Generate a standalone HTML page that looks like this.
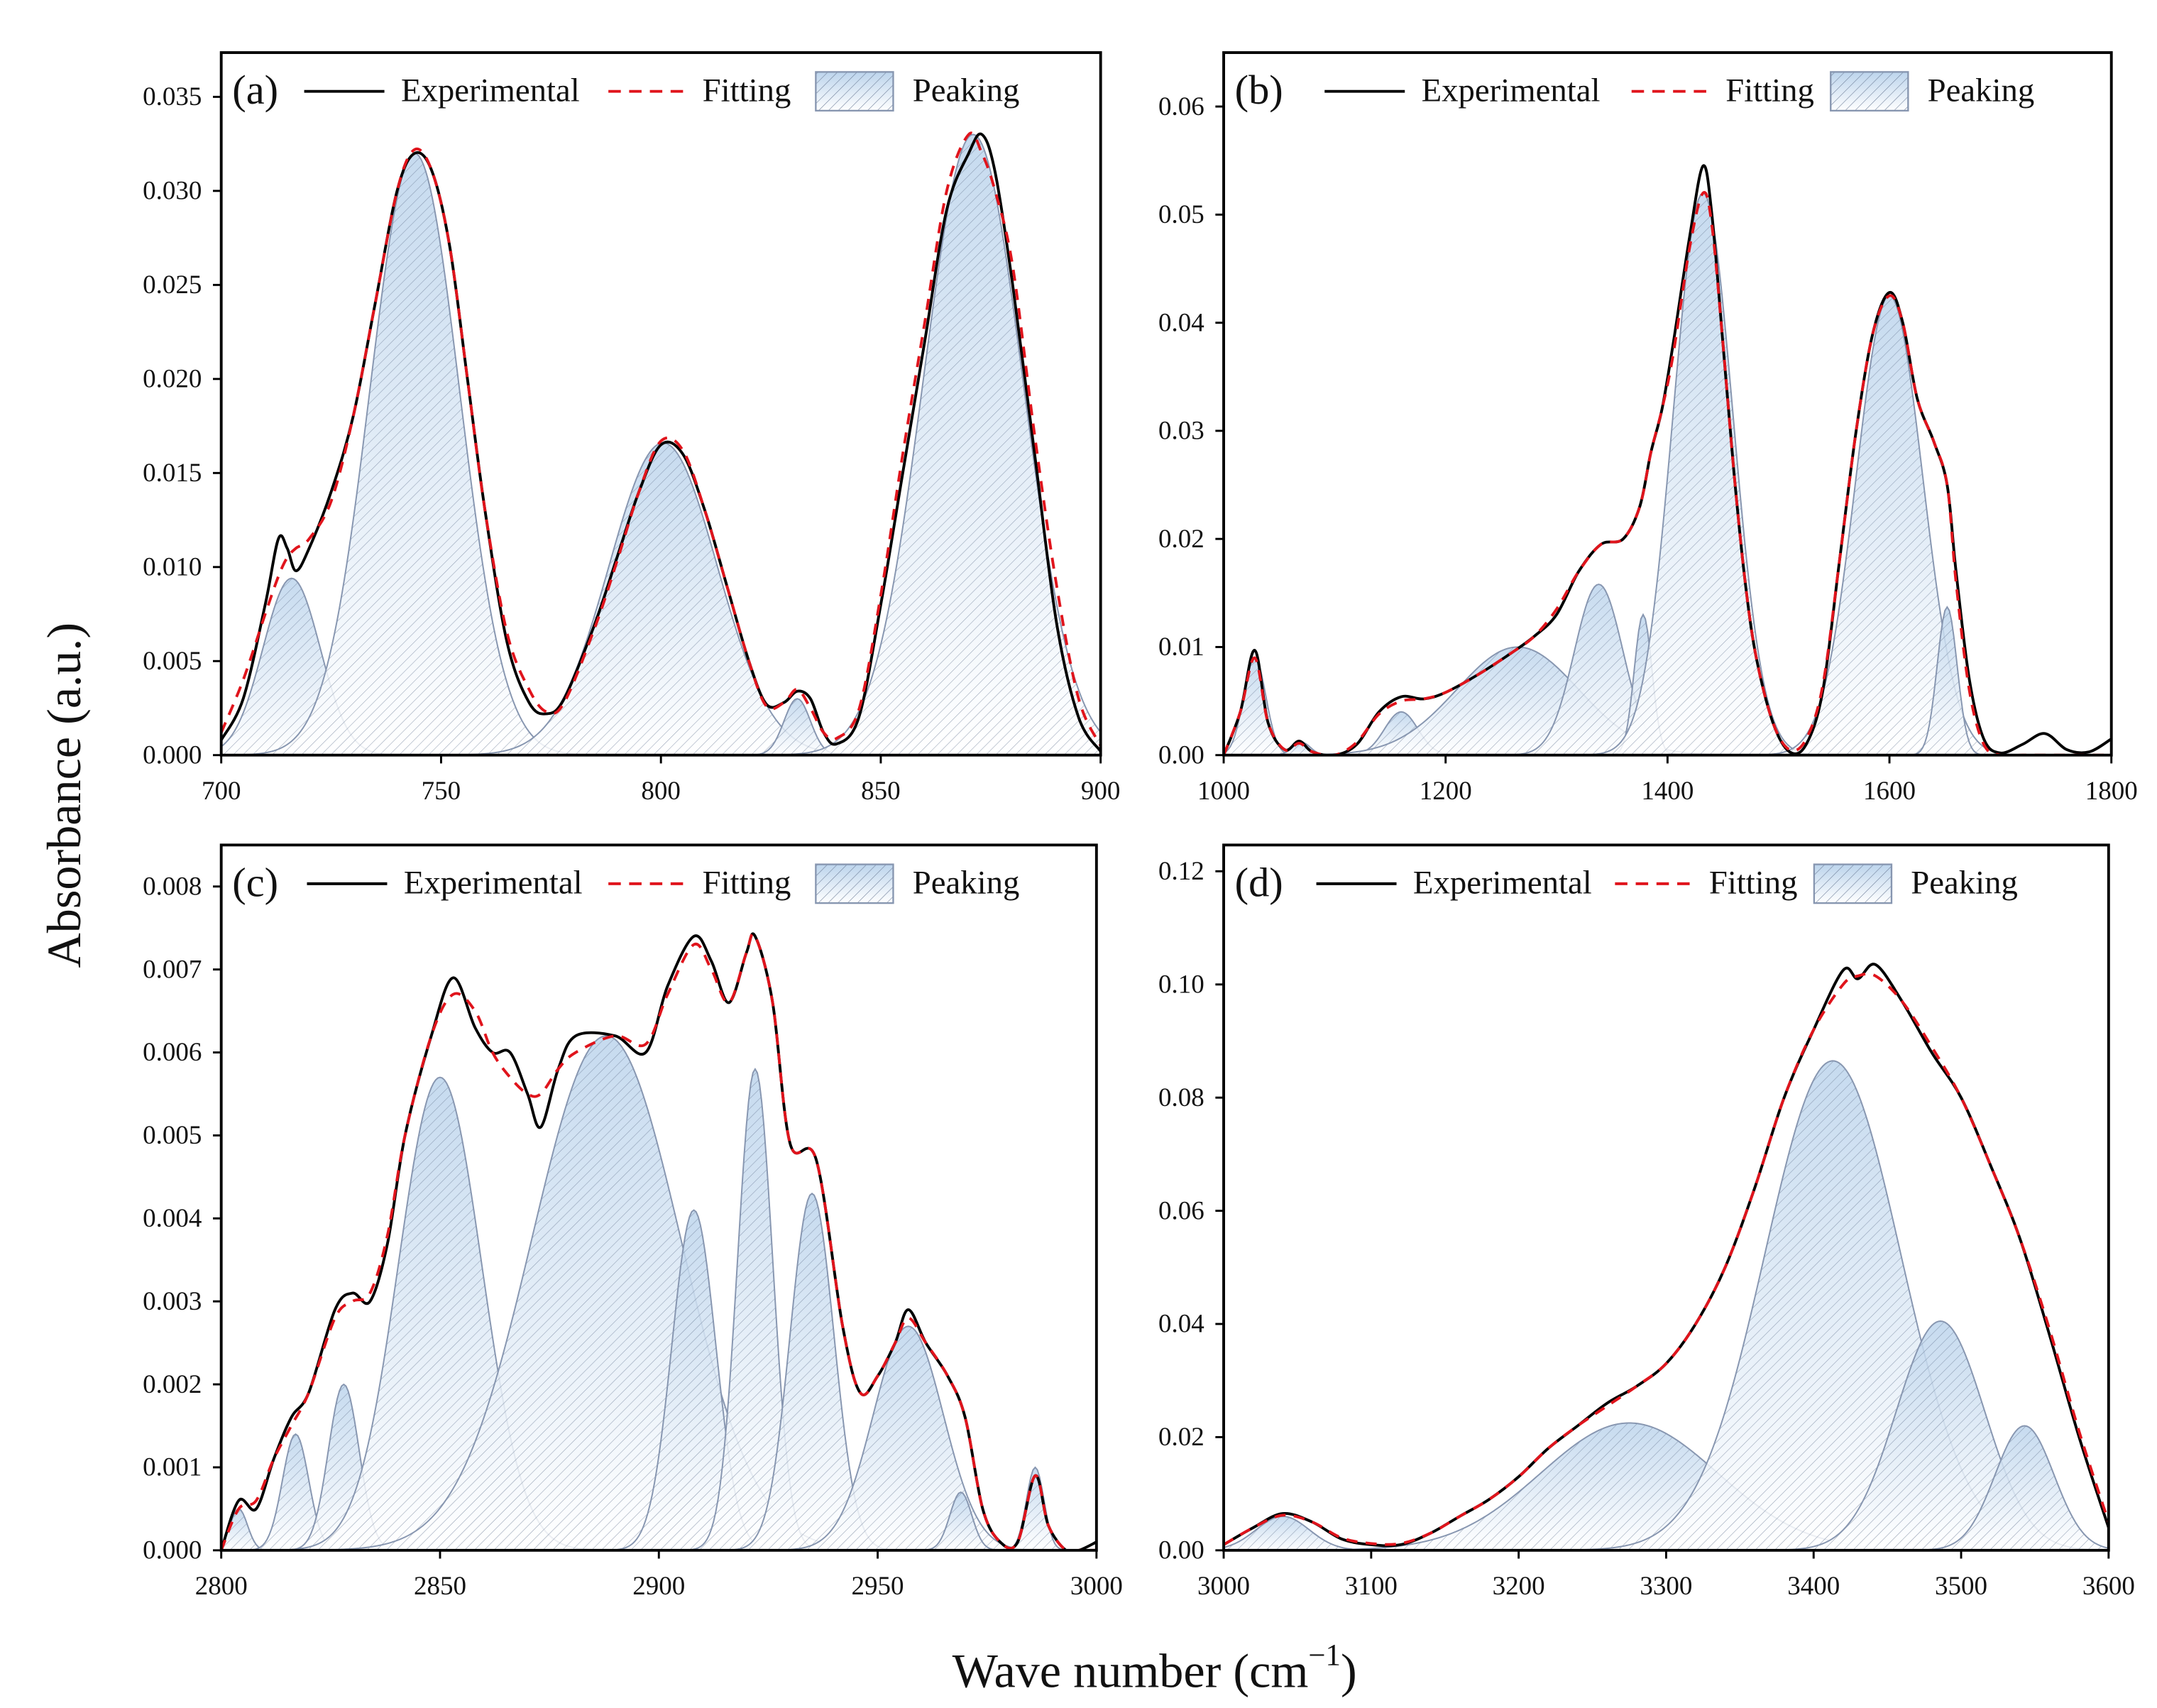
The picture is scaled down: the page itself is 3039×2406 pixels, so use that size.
<!DOCTYPE html>
<html><head><meta charset="utf-8"><style>
html,body{margin:0;padding:0;background:#fff}
svg{display:block}
text{font-family:"Liberation Serif",serif;fill:#111}
</style></head><body>
<svg id="chart" width="3039" height="2406" viewBox="0 0 1560 1235" xmlns="http://www.w3.org/2000/svg">
<defs>
<linearGradient id="bluegrad" x1="0" y1="0" x2="0" y2="1">
<stop offset="0" stop-color="#bcd4ec"/><stop offset="1" stop-color="#ffffff"/>
</linearGradient>
<pattern id="hatch" patternUnits="userSpaceOnUse" width="5" height="5" patternTransform="rotate(45)">
<line x1="0" y1="0" x2="0" y2="5" stroke="#6f7f99" stroke-width="0.6"/>
</pattern>
</defs>
<text transform="translate(58,575) rotate(-90)" text-anchor="middle" font-size="35">Absorbance  (a.u.)</text>
<text x="835" y="1220" text-anchor="middle" font-size="35">Wave number (cm<tspan font-size="22" dy="-16">−1</tspan><tspan dy="16">)</tspan></text>
</svg>
<script>
// ---- Panel (a) data ----
const aPeakCenters=[716,744,800.5,831,871];
const aPeakHeights=[0.0094,0.0320,0.0166,0.0030,0.0330];
const aPeakSigmas=[6.5,10.2,12.3,3,11.3];
const aExpX=[700,705,710,713,715,717,720,725,730,735,740,744,748,752,756,760,765,770,774,778,785,790,795,800,805,810,815,820,824,828,831,834,837,840,845,850,855,860,865,870,873,876,880,885,890,895,900];
const aExpY=[0.0008,0.003,0.008,0.0115,0.011,0.0098,0.011,0.014,0.018,0.024,0.030,0.032,0.031,0.027,0.020,0.013,0.006,0.0028,0.0022,0.003,0.007,0.0105,0.014,0.0165,0.016,0.013,0.009,0.005,0.0027,0.0028,0.0034,0.003,0.0012,0.0006,0.002,0.008,0.015,0.022,0.029,0.032,0.033,0.031,0.025,0.016,0.007,0.002,0.0002];
const aFitY=[0.0012,0.004,0.0075,0.0095,0.0105,0.011,0.0115,0.0135,0.018,0.024,0.030,0.0322,0.031,0.027,0.020,0.013,0.0065,0.0035,0.0023,0.0028,0.0068,0.0103,0.014,0.0167,0.0162,0.013,0.009,0.005,0.0026,0.0028,0.0035,0.0025,0.0012,0.0009,0.0024,0.0085,0.016,0.023,0.030,0.033,0.032,0.030,0.026,0.017,0.009,0.003,0.0005];
const aXTicks=[700,750,800,850,900];
const aYTicks=["0.000","0.005","0.010","0.015","0.020","0.025","0.030","0.035"];
// ---- Panel (b) data ----
const bPeakCenters=[1028,1070,1160,1265,1338,1378,1432,1600,1652];
const bPeakHeights=[0.0090,0.0012,0.0040,0.0100,0.0158,0.0130,0.0520,0.0425,0.0137];
const bPeakSigmas=[10,8,15,55,22,8,27,30,9];
const bExpX=[1000,1015,1028,1040,1055,1068,1080,1100,1120,1140,1160,1180,1200,1230,1260,1280,1300,1320,1340,1360,1375,1385,1395,1405,1420,1432,1440,1450,1460,1470,1480,1495,1510,1525,1540,1555,1570,1585,1600,1612,1625,1640,1652,1660,1672,1685,1700,1720,1740,1760,1780,1800];
const bExpY=[0,0.004,0.0097,0.003,0.0005,0.0013,0.0003,0,0.001,0.004,0.0054,0.0052,0.0058,0.0075,0.0095,0.011,0.013,0.017,0.0195,0.020,0.023,0.028,0.032,0.038,0.048,0.0545,0.050,0.038,0.026,0.016,0.009,0.003,0.0003,0.001,0.006,0.018,0.030,0.039,0.0428,0.040,0.033,0.029,0.025,0.017,0.007,0.0015,0.0002,0.001,0.002,0.0005,0.0003,0.0015];
const bFitY=[0,0.004,0.009,0.003,0.0005,0.0011,0.0003,0,0.0012,0.0038,0.005,0.0052,0.0058,0.0075,0.0095,0.011,0.0135,0.017,0.0195,0.020,0.023,0.028,0.032,0.037,0.047,0.052,0.049,0.038,0.026,0.016,0.009,0.003,0.0005,0.0015,0.0065,0.018,0.030,0.039,0.0425,0.040,0.033,0.029,0.025,0.016,0.006,0.001,0,0,0,0,0,0];
const bXTicks=[1000,1200,1400,1600,1800];
const bYTicks=["0.00","0.01","0.02","0.03","0.04","0.05","0.06"];
// ---- Panel (c) data ----
const cPeakCenters=[2804,2817,2828,2850,2888,2908,2922,2935,2957,2969,2986];
const cPeakHeights=[0.0005,0.0014,0.0020,0.0057,0.0062,0.0041,0.0058,0.0043,0.0027,0.0007,0.0010];
const cPeakSigmas=[2,3,3.5,9.5,17,5,4,5,8,2.5,2];
const cExpX=[2800,2804,2808,2812,2816,2820,2826,2830,2834,2838,2842,2848,2853,2858,2862,2866,2870,2873,2877,2881,2890,2897,2902,2908,2912,2916,2920,2922,2926,2930,2936,2942,2946,2950,2954,2957,2961,2966,2970,2974,2978,2982,2986,2989,2993,2996,3000];
const cExpY=[0,0.0006,0.0005,0.0011,0.0016,0.0019,0.0029,0.0031,0.003,0.0037,0.005,0.0062,0.0069,0.0063,0.006,0.006,0.0055,0.0051,0.0058,0.0062,0.0062,0.006,0.0068,0.0074,0.0071,0.0066,0.0072,0.0074,0.0066,0.0049,0.0047,0.0027,0.0019,0.0021,0.0025,0.0029,0.0025,0.0021,0.0016,0.0005,0.0001,0.0001,0.0009,0.0003,0,0,0.0001];
const cFitY=[0,0.0005,0.0006,0.0011,0.0015,0.0019,0.0028,0.0030,0.0031,0.0038,0.005,0.0062,0.0067,0.0065,0.006,0.0057,0.0055,0.0055,0.0058,0.006,0.0062,0.0061,0.0067,0.0073,0.007,0.0066,0.0072,0.0074,0.0066,0.0049,0.0047,0.0027,0.0019,0.0021,0.0025,0.0028,0.0025,0.0021,0.0016,0.0005,0.0001,0.0001,0.0009,0.0003,0,0,0];
const cXTicks=[2800,2850,2900,2950,3000];
const cYTicks=["0.000","0.001","0.002","0.003","0.004","0.005","0.006","0.007","0.008"];
// ---- Panel (d) data ----
const dPeakCenters=[3040,3275,3413,3486,3543];
const dPeakHeights=[0.006,0.0225,0.0865,0.0405,0.022];
const dPeakSigmas=[18,60,46,30,20];
const dExpX=[3000,3020,3040,3060,3080,3100,3120,3140,3160,3180,3200,3220,3240,3260,3280,3300,3320,3340,3360,3380,3400,3420,3430,3442,3460,3480,3500,3520,3540,3560,3580,3600];
const dExpY=[0.001,0.004,0.0065,0.005,0.002,0.001,0.001,0.003,0.006,0.009,0.013,0.018,0.022,0.026,0.029,0.033,0.040,0.050,0.064,0.080,0.092,0.1025,0.101,0.1035,0.097,0.088,0.080,0.068,0.055,0.038,0.020,0.004];
const dFitY=[0.001,0.004,0.0062,0.005,0.0022,0.0012,0.0012,0.003,0.006,0.009,0.013,0.018,0.022,0.0255,0.029,0.033,0.040,0.050,0.064,0.080,0.092,0.100,0.1015,0.1015,0.097,0.089,0.080,0.068,0.055,0.039,0.021,0.005];
const dXTicks=[3000,3100,3200,3300,3400,3500,3600];
const dYTicks=["0.00","0.02","0.04","0.06","0.08","0.10","0.12"];

const NS="http://www.w3.org/2000/svg";
const svg=document.getElementById('chart');
function mk(tag,attrs,parent){const e=document.createElementNS(NS,tag);for(const k in attrs)e.setAttribute(k,attrs[k]);(parent||svg).appendChild(e);return e;}
function smooth(pts){let d='M'+pts[0][0].toFixed(2)+','+pts[0][1].toFixed(2);
 for(let i=0;i<pts.length-1;i++){const p0=pts[Math.max(0,i-1)],p1=pts[i],p2=pts[i+1],p3=pts[Math.min(pts.length-1,i+2)];
 const c1=[p1[0]+(p2[0]-p0[0])/6,p1[1]+(p2[1]-p0[1])/6],c2=[p2[0]-(p3[0]-p1[0])/6,p2[1]-(p3[1]-p1[1])/6];
 d+='C'+c1[0].toFixed(2)+','+c1[1].toFixed(2)+' '+c2[0].toFixed(2)+','+c2[1].toFixed(2)+' '+p2[0].toFixed(2)+','+p2[1].toFixed(2);}
 return d;}

function panel(id,L,R,T,B,x0,x1,yMax,xTicks,yTicks,pc,ph,ps,ex,ey,fy,legX,lw){
 const g=mk('g',{});
 
 
 const sx=v=>L+(v-x0)/(x1-x0)*(R-L);
 const sy=v=>B-v/yMax*(B-T);
 const clip=mk('clipPath',{id:'clip'+id},g);mk('rect',{x:L,y:T,width:R-L,height:B-T},clip);
 const plot=mk('g',{'clip-path':'url(#clip'+id+')'},g);
 const N=400;
 for(let k=0;k<pc.length;k++){
  let d='M'+sx(x0)+','+B;
  for(let i=0;i<=N;i++){const x=x0+(x1-x0)*i/N;const y=ph[k]*Math.exp(-0.5*Math.pow((x-pc[k])/ps[k],2));d+='L'+sx(x).toFixed(2)+','+sy(y).toFixed(2);}
  d+='L'+sx(x1)+','+B+'Z';
  const pg=mk('g',{},plot);
  
  
  mk('path',{d:d,fill:'url(#bluegrad)','fill-opacity':'0.85'},pg);
  mk('path',{d:d,fill:'url(#hatch)','fill-opacity':'0.7',stroke:'#8796b0','stroke-width':'1'},pg);
 }
 const ep=ex.map((x,i)=>[sx(x),sy(ey[i])]);
 const fp=ex.map((x,i)=>[sx(x),sy(fy[i])]);
 const expL=mk('path',{d:smooth(ep),fill:'none',stroke:'#000','stroke-width':'2'},plot);
 
 
 const fitL=mk('path',{d:smooth(fp),fill:'none',stroke:'#e0141c','stroke-width':'2','stroke-dasharray':'8,6'},plot);
 
 
 const fr=mk('rect',{x:L,y:T,width:R-L,height:B-T,fill:'none',stroke:'#000','stroke-width':'2'},g);
 
 
 xTicks.forEach(v=>{const x=sx(v);mk('line',{x1:x,y1:B,x2:x,y2:B+6,stroke:'#000','stroke-width':'1.5'},g);
  const t=mk('text',{x:x,y:B+32,'text-anchor':'middle','font-size':'19'},g);t.textContent=v;
  
  });
 yTicks.forEach(s=>{const y=sy(parseFloat(s));mk('line',{x1:L-6,y1:y,x2:L,y2:y,stroke:'#000','stroke-width':'1.5'},g);
  const t=mk('text',{x:L-14,y:y+6,'text-anchor':'end','font-size':'19'},g);t.textContent=s;
  
  });
 const lg=mk('g',{},g);
 
 
 const ly=T+28;
 const lt=mk('text',{x:L+8,y:ly+9,'font-size':'30'},lg);lt.textContent='('+id+')';
 let x=legX[0];
 mk('line',{x1:x,y1:ly,x2:x+lw,y2:ly,stroke:'#000','stroke-width':'2'},lg);
 let t=mk('text',{x:x+lw+12,y:ly+7,'font-size':'24'},lg);t.textContent='Experimental';
 x=legX[1];
 mk('line',{x1:x,y1:ly,x2:x+lw,y2:ly,stroke:'#e0141c','stroke-width':'2','stroke-dasharray':'9,6'},lg);
 t=mk('text',{x:x+lw+10,y:ly+7,'font-size':'24'},lg);t.textContent='Fitting';
 x=legX[2];
 mk('rect',{x:x,y:ly-14,width:56,height:28,fill:'url(#bluegrad)',stroke:'none'},lg);
 mk('rect',{x:x,y:ly-14,width:56,height:28,fill:'url(#hatch)',stroke:'#8796b0','stroke-width':'1.2'},lg);
 t=mk('text',{x:x+70,y:ly+7,'font-size':'24'},lg);t.textContent='Peaking';
}
panel('a',160,796,38,546,700,900,0.035*508/476,aXTicks,aYTicks,aPeakCenters,aPeakHeights,aPeakSigmas,aExpX,aExpY,aFitY,[220,440,590],58);
panel('b',885,1527,38,546,1000,1800,0.06*508/469,bXTicks,bYTicks,bPeakCenters,bPeakHeights,bPeakSigmas,bExpX,bExpY,bFitY,[958,1180,1324],58);
panel('c',160,793,611,1121,2800,3000,0.008*510/480,cXTicks,cYTicks,cPeakCenters,cPeakHeights,cPeakSigmas,cExpX,cExpY,cFitY,[222,440,590],58);
panel('d',885,1525,611,1121,3000,3600,0.12*510/491,dXTicks,dYTicks,dPeakCenters,dPeakHeights,dPeakSigmas,dExpX,dExpY,dFitY,[952,1168,1312],58);
</script>
</body></html>
